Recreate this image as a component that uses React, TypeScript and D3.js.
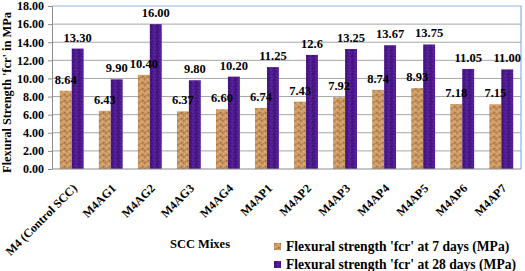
import { useEffect, useRef } from 'react';
import * as d3 from 'd3';

const mixes = [
  'M4 (Control SCC)', 'M4AG1', 'M4AG2', 'M4AG3', 'M4AG4', 'M4AP1',
  'M4AP2', 'M4AP3', 'M4AP4', 'M4AP5', 'M4AP6', 'M4AP7',
];
const days7 = [8.64, 6.43, 10.4, 6.37, 6.6, 6.74, 7.43, 7.92, 8.74, 8.93, 7.18, 7.15];
const days28 = [13.3, 9.9, 16.0, 9.8, 10.2, 11.25, 12.6, 13.25, 13.67, 13.75, 11.05, 11.0];
const labels7 = ['8.64', '6.43', '10.40', '6.37', '6.60', '6.74', '7.43', '7.92', '8.74', '8.93', '7.18', '7.15'];
const labels28 = ['13.30', '9.90', '16.00', '9.80', '10.20', '11.25', '12.6', '13.25', '13.67', '13.75', '11.05', '11.00'];
const yTicks = [0, 2, 4, 6, 8, 10, 12, 14, 16, 18];
const seriesNames = [
  "Flexural strength 'fcr' at 7 days (MPa)",
  "Flexural strength 'fcr'  at 28 days (MPa)",
];

const FONT = '"Liberation Serif", "Times New Roman", serif';

export default function App() {
  const svgRef = useRef<SVGSVGElement>(null);

  useEffect(() => {
    if (!svgRef.current) return;
    const svg = d3.select(svgRef.current);
    svg.selectAll('*').remove();

    const width = 525;
    const height = 271;
    const margin = { top: 6, right: 4, bottom: 102, left: 52 };
    const innerW = width - margin.left - margin.right;
    const innerH = height - margin.top - margin.bottom;

    svg.attr('width', width).attr('height', height)
      .style('font-family', FONT).style('font-weight', 'bold');

    // textures
    const defs = svg.append('defs');
    const cork = defs.append('pattern').attr('id', 'cork')
      .attr('patternUnits', 'userSpaceOnUse').attr('width', 6).attr('height', 6);
    cork.append('rect').attr('width', 6).attr('height', 6).attr('fill', '#c99560');
    [[0, 0, '#a8743f'], [3, 1, '#e2bb8a'], [1, 3, '#e0b481'], [4, 4, '#9c6a38'], [2, 5, '#b9844e'], [5, 2, '#d6a873']]
      .forEach(([x, y, c]) => cork.append('rect').attr('x', x).attr('y', y)
        .attr('width', 1.5).attr('height', 1.5).attr('fill', c as string));
    const purple = defs.append('pattern').attr('id', 'purp')
      .attr('patternUnits', 'userSpaceOnUse').attr('width', 6).attr('height', 6);
    purple.append('rect').attr('width', 6).attr('height', 6).attr('fill', '#4d1a8c');
    [[0, 1, '#3c1172'], [3, 3, '#5b25a0'], [1, 4, '#421480'], [4, 0, '#5a2399']]
      .forEach(([x, y, c]) => purple.append('rect').attr('x', x).attr('y', y)
        .attr('width', 2).attr('height', 2).attr('fill', c as string));

    const g = svg.append('g').attr('transform', `translate(${margin.left},${margin.top})`);

    const x0 = d3.scaleBand<string>().domain(mixes).range([0, innerW])
      .paddingInner(0.39).paddingOuter(0.2);
    const x1 = d3.scaleBand<string>().domain(['7', '28']).range([0, x0.bandwidth()]);
    const y = d3.scaleLinear().domain([0, 18]).range([innerH, 0]);

    // gridlines
    g.append('g').selectAll('line').data(yTicks.slice(1, -1)).enter().append('line')
      .attr('x1', 0).attr('x2', innerW)
      .attr('y1', d => y(d)).attr('y2', d => y(d))
      .attr('stroke', '#a6a6a6').attr('stroke-width', 1);

    // plot border top/right
    g.append('path')
      .attr('d', `M0,${y(18)}H${innerW}V${innerH}`)
      .attr('fill', 'none').attr('stroke', '#8db3e2').attr('stroke-width', 1.2);

    const groups = g.append('g').selectAll('g').data(mixes).enter().append('g')
      .attr('transform', d => `translate(${x0(d)},0)`);

    groups.append('rect')
      .attr('x', x1('7')!).attr('width', x1.bandwidth())
      .attr('y', (_, i) => y(days7[i])).attr('height', (_, i) => innerH - y(days7[i]))
      .attr('fill', 'url(#cork)');
    groups.append('rect')
      .attr('x', x1('28')!).attr('width', x1.bandwidth())
      .attr('y', (_, i) => y(days28[i])).attr('height', (_, i) => innerH - y(days28[i]))
      .attr('fill', 'url(#purp)');

    groups.append('text')
      .attr('x', x1('7')! + x1.bandwidth() / 2).attr('y', (_, i) => y(days7[i]) - 7)
      .attr('text-anchor', 'middle').attr('font-size', 12.5).attr('fill', '#000')
      .text((_, i) => labels7[i]);
    groups.append('text')
      .attr('x', x1('28')! + x1.bandwidth() / 2).attr('y', (_, i) => y(days28[i]) - 7)
      .attr('text-anchor', 'middle').attr('font-size', 12.5).attr('fill', '#000')
      .text((_, i) => labels28[i]);

    // y axis
    const yAxis = g.append('g')
      .call(d3.axisLeft(y).tickValues(yTicks).tickSize(4).tickPadding(4)
        .tickFormat(d => d3.format('.2f')(d as number)));
    yAxis.selectAll('text').attr('font-size', 12).attr('fill', '#000')
      .style('font-family', FONT).style('font-weight', 'bold');
    yAxis.selectAll('line').attr('stroke', '#8c8c8c');
    yAxis.select('.domain').attr('stroke', '#8c8c8c');

    // x axis
    g.append('line').attr('x1', 0).attr('x2', innerW).attr('y1', innerH).attr('y2', innerH)
      .attr('stroke', '#8c8c8c');
    g.append('g').selectAll('text').data(mixes).enter().append('text')
      .attr('transform', d => `translate(${x0(d)! + x0.bandwidth() / 2 + 6},${innerH + 20}) rotate(-45)`)
      .attr('text-anchor', 'end').attr('font-size', 12).attr('fill', '#000')
      .text(d => d);

    // titles
    svg.append('text')
      .attr('transform', `translate(11,${margin.top + innerH / 2 + 5}) rotate(-90)`)
      .attr('text-anchor', 'middle').attr('font-size', 12.4)
      .text("Flexural Strength 'fcr' in MPa");
    svg.append('text').attr('x', 200).attr('y', 248)
      .attr('text-anchor', 'middle').attr('font-size', 12.5).text('SCC Mixes');

    // legend
    const leg = svg.append('g').attr('transform', 'translate(274,243)');
    ['url(#cork)', 'url(#purp)'].forEach((fill, i) => {
      leg.append('rect').attr('x', 0).attr('y', i * 18).attr('width', 7).attr('height', 7)
        .attr('fill', fill);
      leg.append('text').attr('x', 12).attr('y', i * 18 + 8).attr('font-size', 13.6)
        .text(seriesNames[i]);
    });
  }, []);

  return (
    <div style={{ position: 'fixed', left: 0, top: 0, background: '#fff' }}>
      <svg ref={svgRef} style={{ display: 'block' }} />
    </div>
  );
}
